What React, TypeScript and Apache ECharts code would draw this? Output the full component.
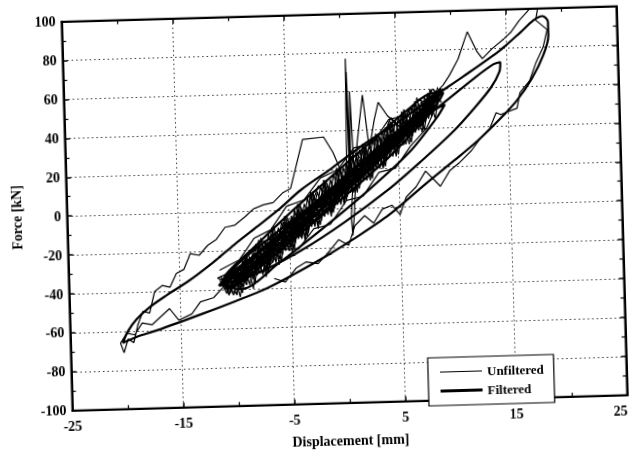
import React, { useEffect, useRef } from "react";
import * as echarts from "echarts";

type Pt = [number, number];

const xMin = -25;
const xMax = 25;
const xStep = 10;
const yMin = -100;
const yMax = 100;
const yStep = 20;
const xTitle = "Displacement [mm]";
const yTitle = "Force [kN]";
const seriesNames = ["Unfiltered", "Filtered"];

// ---- Unfiltered (thin) measurements ----
const unfilteredUpperLeft: Pt[] = [
  [-11.0, -38], [-12.0, -44], [-13.2, -46], [-14.0, -52], [-15.2, -55], [-16.0, -49], [-16.8, -53],
  [-17.6, -57], [-18.5, -56], [-19.2, -62], [-19.9, -61], [-20.5, -66], [-20.2, -71], [-19.8, -64],
  [-19.3, -66], [-18.9, -57], [-18.4, -50], [-17.8, -51], [-17.3, -40], [-16.6, -37], [-15.9, -38],
  [-15.3, -31], [-14.6, -29], [-14.0, -21], [-13.2, -22], [-12.4, -17], [-11.6, -14], [-10.8, -8],
  [-9.9, -7], [-9.0, -3], [-8.2, 1], [-7.3, 3], [-6.4, 4], [-5.5, 9], [-4.8, 11], [-3.6, 36],
  [-1.7, 37], [-0.9, 29], [-0.4, 22], [0.1, 14],
];

const unfilteredBand: Pt[] = [
  [-11.0, -36], [-9.6, -30], [-8.2, -22], [-6.9, -19], [-5.2, -8], [-3.8, -4], [-2.1, 6], [-0.6, 9],
  [1.2, 20], [2.8, 24], [4.3, 35], [5.9, 38], [7.2, 49], [8.3, 55], [7.6, 47], [6.1, 42], [4.8, 31],
  [3.0, 27], [1.6, 15], [0.2, 11], [-1.5, 0], [-3.0, -3], [-4.6, -15], [-6.2, -18], [-7.8, -29],
  [-9.4, -31], [-10.6, -39],
  [-9.8, -33], [-8.6, -25], [-7.0, -22], [-5.6, -12], [-4.1, -9], [-2.6, 2], [-1.0, 4], [0.6, 16],
  [2.1, 18], [3.7, 29], [5.2, 33], [6.6, 44], [7.9, 52], [8.6, 59], [7.1, 51], [5.6, 40], [4.0, 36],
  [2.4, 22], [0.9, 20], [-0.7, 7], [-2.3, 5], [-3.9, -7], [-5.5, -10], [-7.1, -22], [-8.7, -26],
  [-10.2, -37],
  [-11.6, -34], [-10.4, -31], [-9.1, -24], [-7.6, -16], [-6.0, -14], [-4.4, -2], [-2.8, -1], [-1.2, 11],
  [0.4, 12], [2.0, 25], [3.5, 27], [5.0, 38], [6.4, 41], [7.7, 55], [8.1, 50], [6.8, 44], [5.3, 35],
  [3.8, 32], [2.3, 20], [0.7, 17], [-0.9, 4], [-2.4, 2], [-4.0, -10], [-5.7, -12], [-7.3, -25],
  [-8.9, -27], [-10.8, -41],
  [-10.1, -35], [-8.9, -29], [-7.4, -19], [-6.3, -17], [-4.8, -6], [-3.2, -2], [-1.8, 8], [-0.2, 12],
  [1.4, 22], [3.1, 23], [4.6, 34], [6.2, 40], [7.4, 52], [6.7, 46], [5.4, 37], [3.6, 33], [2.2, 19],
  [0.6, 19], [-1.1, 3], [-2.7, 1], [-4.3, -12], [-5.9, -14], [-7.5, -27], [-9.1, -29], [-10.4, -40],
  [-9.0, -33], [-7.9, -25], [-6.5, -18], [-5.0, -15], [-3.5, -4], [-2.0, -3], [-0.4, 9], [1.1, 13],
  [2.6, 20], [4.1, 30], [5.5, 32], [6.9, 45], [8.0, 57], [7.3, 49], [5.9, 44], [4.4, 34], [2.9, 29],
  [1.3, 18], [-0.3, 15], [-1.9, 2], [-3.4, -1], [-5.1, -13], [-6.7, -17], [-8.3, -28], [-9.7, -35],
  [-11.3, -37],
  [-10.0, -42], [-8.6, -33], [-7.2, -31], [-5.8, -20], [-4.2, -20], [-2.8, -10], [-1.3, -8], [0.2, 4],
  [1.7, 6], [3.2, 18], [4.7, 20], [6.1, 31], [7.6, 40], [8.4, 50], [7.0, 55], [5.7, 47], [4.2, 45],
  [2.7, 33], [1.0, 31], [-0.5, 20], [-2.1, 16], [-3.6, 5], [-5.2, 2], [-6.7, -10], [-8.2, -14],
  [-9.6, -25], [-11.4, -30],
];

const unfilteredZigzagUp: Pt[] = [
  [-10.8, -36], [-10.2, -43], [-9.6, -29], [-9.0, -38], [-8.4, -22], [-7.8, -32], [-7.2, -16],
  [-6.6, -27], [-6.0, -9], [-5.4, -21], [-4.8, -3], [-4.2, -15], [-3.6, 3], [-3.0, -9], [-2.4, 9],
  [-1.8, -4], [-1.2, 15], [-0.6, 2], [0.0, 21], [0.6, 8], [1.2, 27], [1.8, 14], [2.4, 33], [3.0, 20],
  [3.6, 39], [4.2, 26], [4.8, 44], [5.4, 32], [6.0, 50], [6.6, 38], [7.2, 54], [7.8, 45], [8.4, 59],
  [9.0, 53],
];

const unfilteredZigzagDown: Pt[] = [
  [8.7, 52], [8.1, 57], [7.5, 43], [6.9, 53], [6.3, 36], [5.7, 48], [5.1, 30], [4.5, 43], [3.9, 24],
  [3.3, 37], [2.7, 18], [2.1, 31], [1.5, 12], [0.9, 26], [0.3, 6], [-0.3, 20], [-0.9, 0], [-1.5, 13],
  [-2.1, -6], [-2.7, 7], [-3.3, -12], [-3.9, 1], [-4.5, -17], [-5.1, -5], [-5.7, -23], [-6.3, -11],
  [-6.9, -28], [-7.5, -17], [-8.1, -33], [-8.7, -24], [-9.3, -39], [-9.9, -30], [-10.5, -42],
  [-11.2, -36],
];

const unfilteredZigzagMixed: Pt[] = [
  [-11.0, -40], [-10.1, -31], [-9.3, -36], [-8.0, -26], [-7.1, -29], [-6.2, -14], [-5.0, -19],
  [-4.0, -4], [-3.1, -8], [-2.0, 8], [-1.0, 3], [0.2, 18], [1.0, 12], [2.0, 28], [3.1, 22], [4.0, 38],
  [5.0, 32], [5.9, 47], [6.8, 41], [7.6, 55], [8.5, 50], [8.8, 58], [8.2, 60], [6.0, 36], [4.4, 46],
  [2.5, 20], [1.0, 29], [-0.8, 2], [-2.3, 12], [-4.0, -14], [-5.5, -6], [-7.0, -30], [-8.6, -20],
  [-10.6, -40],
];

const unfilteredWideUp: Pt[] = [
  [-10.5, -33], [-9.9, -43], [-9.3, -25], [-8.7, -38], [-8.1, -18], [-7.5, -33], [-6.9, -12],
  [-6.3, -27], [-5.7, -6], [-5.1, -21], [-4.5, 0], [-3.9, -15], [-3.3, 6], [-2.7, -9], [-2.1, 12],
  [-1.5, -3], [-0.9, 18], [-0.3, 2], [0.3, 24], [0.9, 8], [1.5, 30], [2.1, 14], [2.7, 35], [3.3, 20],
  [3.9, 41], [4.5, 26], [5.1, 46], [5.7, 32], [6.3, 51], [6.9, 39], [7.5, 56], [8.1, 46], [8.7, 61],
];

const unfilteredWideDown: Pt[] = [
  [8.4, 50], [7.8, 58], [7.2, 41], [6.6, 53], [6.0, 35], [5.4, 48], [4.8, 28], [4.2, 42], [3.6, 22],
  [3.0, 36], [2.4, 16], [1.8, 30], [1.2, 10], [0.6, 25], [0.0, 4], [-0.6, 19], [-1.2, -2], [-1.8, 13],
  [-2.4, -8], [-3.0, 7], [-3.6, -14], [-4.2, 0], [-4.8, -19], [-5.4, -6], [-6.0, -25], [-6.6, -12],
  [-7.2, -30], [-7.8, -18], [-8.4, -35], [-9.0, -24], [-9.6, -40], [-10.2, -30], [-10.8, -42],
  [-11.4, -35],
];

const unfilteredFineUp: Pt[] = [
  [-10.0, -38], [-9.5, -31], [-9.0, -36], [-8.5, -27], [-8.0, -33], [-7.5, -22], [-7.0, -28],
  [-6.5, -17], [-6.0, -22], [-5.5, -11], [-5.0, -17], [-4.5, -6], [-4.0, -12], [-3.5, -1], [-3.0, -6],
  [-2.5, 5], [-2.0, -1], [-1.5, 10], [-1.0, 4], [-0.5, 15], [0.0, 9], [0.5, 20], [1.0, 14], [1.5, 25],
  [2.0, 19], [2.5, 30], [3.0, 24], [3.5, 35], [4.0, 29], [4.5, 40], [5.0, 34], [5.5, 44], [6.0, 39],
  [6.5, 49], [7.0, 44], [7.5, 53], [8.0, 49], [8.5, 57],
];

const unfilteredBroadUp: Pt[] = [
  [-10.2, -30], [-9.6, -44], [-9.0, -22], [-8.4, -40], [-7.8, -15], [-7.2, -34], [-6.6, -9],
  [-6.0, -28], [-5.4, -3], [-4.8, -22], [-4.2, 3], [-3.6, -16], [-3.0, 9], [-2.4, -10], [-1.8, 15],
  [-1.2, -4], [-0.6, 21], [0.0, 2], [0.6, 27], [1.2, 8], [1.8, 33], [2.4, 14], [3.0, 38], [3.6, 20],
  [4.2, 44], [4.8, 26], [5.4, 49], [6.0, 32], [6.6, 54], [7.2, 38], [7.8, 58], [8.4, 45], [8.9, 60],
];

const unfilteredBroadDown: Pt[] = [
  [8.6, 53], [8.0, 60], [7.4, 39], [6.8, 56], [6.2, 33], [5.6, 50], [5.0, 27], [4.4, 44], [3.8, 21],
  [3.2, 38], [2.6, 15], [2.0, 32], [1.4, 10], [0.8, 27], [0.2, 4], [-0.4, 21], [-1.0, -2], [-1.6, 15],
  [-2.2, -8], [-2.8, 9], [-3.4, -14], [-4.0, 3], [-4.6, -20], [-5.2, -3], [-5.8, -26], [-6.4, -8],
  [-7.0, -32], [-7.6, -14], [-8.2, -37], [-8.8, -21], [-9.4, -42], [-10.0, -27], [-10.6, -43],
  [-11.3, -33],
];

const unfilteredSpikes: Pt[] = [
  [-0.3, 8], [0.3, 20], [0.45, 77], [0.55, 12], [0.5, 70], [0.65, 20], [0.75, 60], [0.95, 22],
  [0.6, -5], [0.7, -14], [0.9, -2], [1.3, 33], [1.9, 58], [2.4, 30], [2.9, 45], [3.3, 54], [4.1, 47],
  [5.2, 41], [5.8, 48],
];

const unfilteredLowerRight: Pt[] = [
  [-6.5, -35], [-5.5, -37], [-4.5, -30], [-3.6, -27], [-2.5, -28], [-1.5, -22], [-0.6, -16], [0.3, -19],
  [0.9, -9], [1.8, -4], [2.6, -8], [3.4, -1], [4.3, 1], [5.0, -4], [5.6, 5], [6.5, 10], [7.4, 18],
  [8.7, 10], [9.6, 18], [10.5, 22], [11.6, 28], [12.4, 34], [13.3, 39], [13.9, 47], [14.3, 46],
  [15.8, 49], [16.1, 57], [17.0, 63], [17.6, 72], [18.3, 80], [18.7, 89], [17.7, 94], [17.9, 100],
  [17.2, 100], [16.2, 94], [15.4, 88], [14.6, 84], [13.7, 80], [12.8, 75], [12.3, 79], [11.5, 89],
  [10.6, 75], [9.8, 67], [9.2, 62], [8.5, 58],
];

// ---- Filtered (thick) measurements ----
const filteredBandLoops: Pt[] = [
  [-10.0, -36], [-7.0, -20], [-3.0, -2], [1.0, 16], [5.0, 36], [8.0, 52], [9.0, 58], [8.5, 54],
  [6.0, 40], [3.0, 24], [-1.0, 5], [-5.0, -15], [-9.0, -32], [-11.0, -35], [-8.0, -22], [-4.0, -4],
  [0.0, 13], [4.0, 32], [7.5, 50], [8.5, 56], [8.0, 50], [5.0, 34], [1.0, 14], [-3.0, -4],
  [-7.0, -22], [-10.5, -38], [-10.8, -40], [-8.0, -30], [-4.0, -12], [0.0, 6], [4.0, 25], [7.0, 42],
  [8.8, 54], [9.2, 58], [8.2, 58], [6.0, 50], [3.0, 36], [-1.0, 17], [-5.0, -2], [-8.5, -20],
  [-10.8, -32], [-11.3, -38],
];

const filteredExtraLoops: Pt[] = [
  [-11.2, -37], [-9.0, -30], [-6.0, -18], [-2.0, 0], [2.0, 18], [6.0, 38], [8.6, 55], [9.0, 60],
  [8.0, 54], [5.0, 38], [1.0, 20], [-3.0, 0], [-7.0, -18], [-10.0, -32], [-11.2, -37], [-9.5, -40],
  [-6.0, -27], [-2.0, -10], [2.0, 8], [6.0, 28], [8.5, 45], [9.3, 52], [8.0, 48], [4.0, 28],
  [0.0, 8], [-4.0, -12], [-8.0, -30], [-10.5, -39], [-11.0, -36], [-8.5, -24], [-5.0, -8],
  [-1.0, 11], [3.0, 30], [6.5, 46], [8.7, 57], [7.5, 49], [4.5, 35], [1.0, 18], [-3.0, -2],
  [-6.5, -20], [-9.8, -35],
];

const filteredMediumLoop: Pt[] = [
  [-11.5, -38], [-10.0, -28], [-7.0, -15], [-3.0, 2], [1.0, 18], [5.0, 36], [9.0, 52], [12.0, 65],
  [13.8, 72], [14.4, 73], [14.3, 68], [13.5, 60], [12.0, 50], [10.0, 38], [7.0, 23], [4.0, 9],
  [0.0, -7], [-4.0, -21], [-8.0, -32], [-11.5, -38],
];

const filteredLargeLoop: Pt[] = [
  [-20.3, -66], [-19.8, -60], [-19.0, -54], [-17.8, -48], [-16.2, -42], [-14.2, -35], [-12.0, -26],
  [-10.0, -17], [-8.0, -8.5], [-6.0, 0], [-3.9, 10], [-1.0, 21], [2.0, 33], [5.2, 44], [8.0, 55],
  [11.0, 66], [14.4, 79], [16.3, 88], [17.5, 94], [18.3, 96], [18.8, 93], [18.8, 86], [18.3, 76],
  [17.2, 64], [15.8, 53], [14.1, 43], [12.2, 33], [10.0, 23], [7.5, 12], [4.0, -4], [1.0, -15],
  [-2.0, -25], [-5.0, -34], [-7.2, -40], [-10.0, -46], [-13.0, -52], [-17.2, -60], [-19.0, -63],
  [-20.3, -66],
];

const unfilteredSegments = [
  unfilteredUpperLeft,
  unfilteredBand,
  unfilteredZigzagUp,
  unfilteredZigzagDown,
  unfilteredZigzagMixed,
  unfilteredWideUp,
  unfilteredWideDown,
  unfilteredFineUp,
  unfilteredBroadUp,
  unfilteredBroadDown,
  unfilteredSpikes,
  unfilteredLowerRight,
];
const filteredSegments = [filteredBandLoops, filteredExtraLoops, filteredMediumLoop, filteredLargeLoop];

export default function App() {
  const ref = useRef<HTMLDivElement>(null);

  useEffect(() => {
    if (!ref.current) return;
    const chart = echarts.init(ref.current, null, { renderer: "svg" });
    const fontFamily = "'Liberation Serif', 'Times New Roman', serif";
    const textBase = { fontFamily, fontWeight: "bold" as const, color: "#000", fontSize: 14 };

    const thinStyle = { color: "#000", width: 1.2 };
    const thickStyle = { color: "#000", width: 2.2 };

    const series: any[] = [];
    unfilteredSegments.forEach((seg) => {
      series.push({
        name: seriesNames[0],
        type: "line",
        data: seg,
        symbol: "none",
        showSymbol: false,
        lineStyle: thinStyle,
        itemStyle: { color: "#000" },
        xAxisIndex: 0,
        yAxisIndex: 0,
        z: 2,
      });
    });
    filteredSegments.forEach((seg) => {
      series.push({
        name: seriesNames[1],
        type: "line",
        data: seg,
        symbol: "none",
        showSymbol: false,
        smooth: 0.3,
        lineStyle: thickStyle,
        itemStyle: { color: "#000" },
        xAxisIndex: 0,
        yAxisIndex: 0,
        z: 3,
      });
    });

    const dotted = { type: [1.5, 3] as any, color: "#333", width: 1 };
    const frameAxis = {
      type: "value" as const,
      axisLine: { show: true, onZero: false, lineStyle: { color: "#000", width: 2 } },
      axisTick: { show: true, inside: true, length: 5, lineStyle: { color: "#000", width: 1.5 } },
      minorTick: { show: true, splitNumber: 2, length: 4, lineStyle: { color: "#000", width: 1.2 } },
    };

    chart.setOption({
      animation: false,
      backgroundColor: "#fff",
      grid: {
        left: 67.5,
        top: 14.7,
        width: 555,
        height: 389,
        show: true,
        borderColor: "#000",
        borderWidth: 2,
        backgroundColor: "transparent",
      },
      legend: {
        data: [
          { name: seriesNames[0], icon: "path://M0 0H40V1H0Z" },
          { name: seriesNames[1], icon: "path://M0 0H40V3H0Z" },
        ],
        orient: "vertical",
        left: 424,
        top: 361,
        padding: [8, 10, 8, 12],
        itemGap: 6,
        itemWidth: 42,
        itemHeight: 14,
        borderColor: "#000",
        borderWidth: 1.2,
        backgroundColor: "#fff",
        itemStyle: { color: "#000", borderWidth: 0 },
        textStyle: { ...textBase, fontSize: 13 },
        selectedMode: false,
      },
      xAxis: [
        {
          ...frameAxis,
          min: xMin,
          max: xMax,
          interval: xStep,
          position: "bottom",
          name: xTitle,
          nameLocation: "middle",
          nameGap: 31,
          nameTextStyle: { ...textBase, fontSize: 14 },
          axisLabel: { ...textBase, margin: 9, alignMaxLabel: "right" },
          splitLine: { show: true, lineStyle: dotted },
        },
        {
          ...frameAxis,
          min: xMin,
          max: xMax,
          interval: xStep,
          position: "top",
          axisLabel: { show: false },
          splitLine: { show: false },
        },
      ],
      yAxis: [
        {
          ...frameAxis,
          min: yMin,
          max: yMax,
          interval: yStep,
          position: "left",
          name: yTitle,
          nameLocation: "middle",
          nameGap: 40,
          nameTextStyle: { ...textBase, fontSize: 14 },
          axisLabel: { ...textBase, margin: 6 },
          splitLine: { show: true, lineStyle: dotted },
        },
        {
          ...frameAxis,
          min: yMin,
          max: yMax,
          interval: yStep,
          position: "right",
          axisLabel: { show: false },
          splitLine: { show: false },
        },
      ],
      series,
    });

    return () => chart.dispose();
  }, []);

  return (
    <div
      ref={ref}
      style={{
        position: "fixed",
        left: 0,
        top: 0,
        width: 633,
        height: 459,
        transform: "rotate(-1.6deg)",
        transformOrigin: "50% 50%",
      }}
    />
  );
}
